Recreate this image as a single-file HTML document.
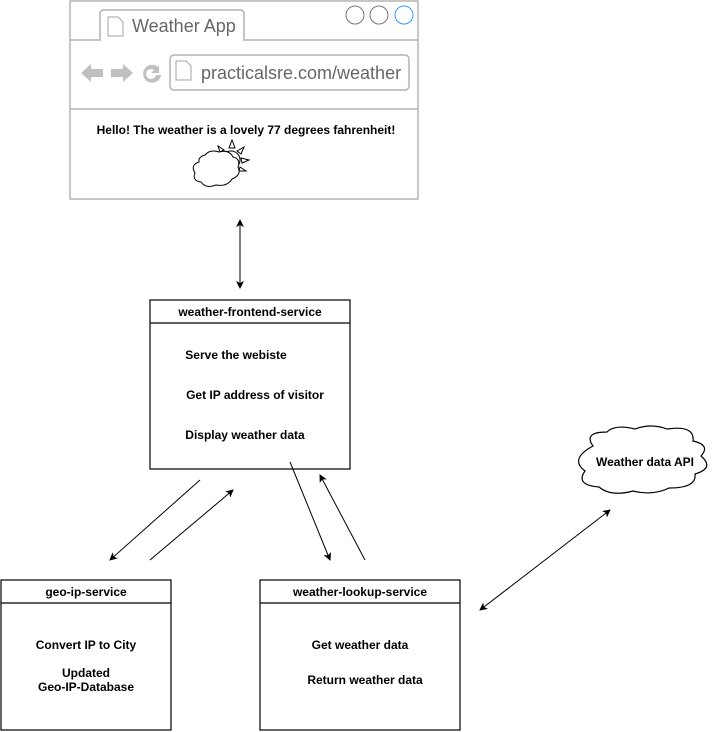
<!DOCTYPE html>
<html><head><style>body{margin:0;background:#fff}svg{display:block}text{font-family:"Liberation Sans",Arial,sans-serif}</style></head><body>
<svg width="722" height="732" viewBox="0 0 722 732">
<defs><marker id="a" markerWidth="8" markerHeight="8" refX="7" refY="4" orient="auto-start-reverse" markerUnits="userSpaceOnUse"><path d="M0,0 L8,4 L0,8 L2,4z" fill="#000"/></marker></defs>
<g fill="none" stroke="#b3b3b3" stroke-width="1.5">
<rect x="70" y="1" width="348" height="198" fill="#fff"/>
<path d="M70,40 H100 V14 Q100,10 104,10 H240 Q244,10 244,14 V40 H418"/>
<line x1="70" y1="109" x2="418" y2="109"/>
<rect x="170" y="55" width="239" height="35" rx="4"/>
<path d="M108,17 h10 l5,5 v14 h-15z M176,61 h10 l5,5 v14 h-15z" stroke-width="1.2"/>
</g>
<g fill="#c0c0c0">
<path d="M81,73 l10,-9 v5 h12 v8 h-12 v5z"/>
<path d="M133,73 l-10,-9 v5 h-12 v8 h12 v5z"/>
<path d="M158,67 a9,9 0 1 0 3,8 h-5 a5,5 0 1 1 -2,-5 l-3,3 h8 v-8z"/>
</g>
<circle cx="355" cy="15" r="9" fill="none" stroke="#777"/>
<circle cx="379" cy="15" r="9" fill="none" stroke="#777"/>
<circle cx="404" cy="15" r="9" fill="none" stroke="#3399ff"/>
<text x="132" y="32" font-size="18" fill="#666">Weather App</text>
<text x="201" y="79" font-size="18" fill="#666">practicalsre.com/weather</text>
<text x="246" y="134" font-size="12" font-weight="bold" text-anchor="middle">Hello! The weather is a lovely 77 degrees fahrenheit!</text>
<g fill="#fff" stroke="#000" stroke-width="1">
<path d="M229,148 l3,-8 l3,8z M237,151 l7,-4 l-3,7z M241,158 l8,2 l-7,3z M240,167 l6,4 l-7,0z M224,150 l-6,-4 l2,6z"/>
<circle cx="231" cy="160" r="9"/>
<path d="M205,155 q5,-6 14,-3 q10,-3 14,5 q8,2 5,10 q4,8 -6,12 q-5,8 -16,6 q-10,4 -15,-3 q-9,-1 -6,-9 q-5,-8 4,-11 q-1,-5 6,-7z"/>
</g>
<g fill="#fff" stroke="#000" stroke-width="1.2">
<rect x="150" y="300" width="200" height="169"/><line x1="150" y1="323" x2="350" y2="323"/>
<rect x="1" y="580" width="170" height="150"/><line x1="1" y1="603" x2="171" y2="603"/>
<rect x="260" y="580" width="200" height="150"/><line x1="260" y1="603" x2="460" y2="603"/>
<path d="M593,446 q-10,-14 14,-14 q8,-8 28,-3 q16,-6 32,0 q28,-4 26,12 q18,4 8,15 q14,12 -6,18 q2,14 -26,14 q-16,8 -36,3 q-22,6 -34,-4 q-24,-2 -14,-16 q-16,-12 8,-25z"/>
</g>
<g font-size="12" font-weight="bold" text-anchor="middle">
<text x="250" y="316">weather-frontend-service</text>
<text x="236" y="359">Serve the webiste</text>
<text x="255" y="399">Get IP address of visitor</text>
<text x="245" y="439">Display weather data</text>
<text x="86" y="596">geo-ip-service</text>
<text x="86" y="649">Convert IP to City</text>
<text x="86" y="677">Updated</text>
<text x="86" y="691">Geo-IP-Database</text>
<text x="360" y="596">weather-lookup-service</text>
<text x="360" y="649">Get weather data</text>
<text x="365" y="684">Return weather data</text>
<text x="645" y="466">Weather data API</text>
</g>
<g stroke="#000" stroke-width="1" marker-end="url(#a)">
<line x1="240" y1="220" x2="240" y2="288" marker-start="url(#a)"/>
<line x1="200" y1="480" x2="110" y2="560"/>
<line x1="150" y1="560" x2="233" y2="490"/>
<line x1="290" y1="462" x2="330" y2="560"/>
<line x1="365" y1="560" x2="320" y2="475"/>
<line x1="480" y1="610" x2="610" y2="510" marker-start="url(#a)"/>
</g>
</svg>
</body></html>
